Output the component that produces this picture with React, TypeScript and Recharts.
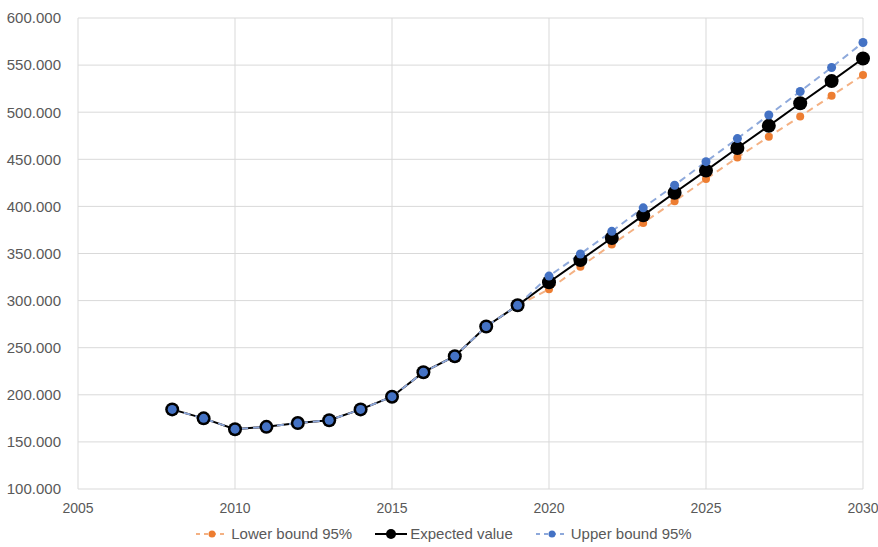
import { CartesianGrid, Legend, Line, LineChart, XAxis, YAxis } from 'recharts';

const years = [2008, 2009, 2010, 2011, 2012, 2013, 2014, 2015, 2016, 2017, 2018, 2019, 2020, 2021, 2022, 2023, 2024, 2025, 2026, 2027, 2028, 2029, 2030];

const expected = [184500, 175000, 163500, 166000, 170000, 173000, 184500, 198000, 224000, 241000, 272500, 295000, 319500, 343000, 366500, 390500, 414500, 438000, 462000, 485500, 509500, 533000, 557000];
const lower = [184500, 175000, 163500, 166000, 170000, 173000, 184500, 198000, 224000, 241000, 272500, 295000, 312000, 336000, 359500, 382500, 405500, 429000, 452000, 474000, 495500, 517500, 539500];
const upper = [184500, 175000, 163500, 166000, 170000, 173000, 184500, 198000, 224000, 241000, 272500, 295000, 326000, 349500, 373500, 398500, 422500, 447500, 472000, 497000, 522000, 547500, 574000];

const xTicks = [2005, 2010, 2015, 2020, 2025, 2030];
const yTicks = [100000, 150000, 200000, 250000, 300000, 350000, 400000, 450000, 500000, 550000, 600000];

const data = years.map((year, i) => ({ year, lower: lower[i], expected: expected[i], upper: upper[i] }));

const FONT = '"Liberation Sans", Arial, sans-serif';
const TEXT = '#595959';

// 600000 -> "600.000"
const fmtY = (v: number) => {
  const s = String(v);
  return s.slice(0, s.length - 3) + '.' + s.slice(-3);
};

const legendItems = [
  { name: 'Lower bound 95%', line: '#F4B183', dot: '#ED7D31', dash: '4 4', r: 3.5 },
  { name: 'Expected value', line: '#000000', dot: '#000000', dash: undefined, r: 5 },
  { name: 'Upper bound 95%', line: '#8EA9DB', dot: '#4472C4', dash: '4 4', r: 3.5 },
];

function LegendContent() {
  return (
    <div style={{ display: 'flex', justifyContent: 'center', paddingLeft: 24, fontFamily: FONT, fontSize: 15, color: TEXT, lineHeight: '17px' }}>
      {legendItems.map((it) => (
        <div key={it.name} style={{ display: 'flex', alignItems: 'center', margin: '0 11px' }}>
          <svg width={34} height={14}>
            <line x1={1} y1={7} x2={33} y2={7} stroke={it.line} strokeWidth={2} strokeDasharray={it.dash} />
            <circle cx={17} cy={7} r={it.r} fill={it.dot} />
          </svg>
          <span style={{ marginLeft: 2 }}>{it.name}</span>
        </div>
      ))}
    </div>
  );
}

export default function App() {
  return (
    <div style={{ position: 'absolute', left: 0, top: 0, background: '#fff' }}>
      <LineChart width={878} height={547} data={data} margin={{ top: 18, right: 15, bottom: 0, left: 0 }}>
        <CartesianGrid stroke="#D9D9D9" strokeWidth={1} />
        <XAxis
          dataKey="year"
          type="number"
          domain={[2005, 2030]}
          ticks={xTicks}
          axisLine={false}
          tickLine={false}
          tickSize={0}
          tickMargin={14}
          height={32}
          tick={{ fill: TEXT, fontSize: 14, fontFamily: FONT }}
        />
        <YAxis
          type="number"
          domain={[100000, 600000]}
          ticks={yTicks}
          tickFormatter={fmtY}
          axisLine={false}
          tickLine={false}
          tickSize={0}
          tickMargin={17}
          width={78}
          tick={{ fill: TEXT, fontSize: 15, fontFamily: FONT }}
        />
        <Legend verticalAlign="bottom" height={26} wrapperStyle={{ top: 525, bottom: 'auto' }} content={<LegendContent />} />
        <Line
          dataKey="lower"
          name="Lower bound 95%"
          stroke="#F4B183"
          strokeWidth={2}
          strokeDasharray="7 5"
          dot={{ r: 4, fill: '#ED7D31', stroke: 'none' }}
          isAnimationActive={false}
        />
        <Line
          dataKey="expected"
          name="Expected value"
          stroke="#000000"
          strokeWidth={2}
          dot={{ r: 7, fill: '#000000', stroke: 'none' }}
          isAnimationActive={false}
        />
        <Line
          dataKey="upper"
          name="Upper bound 95%"
          stroke="#8EA9DB"
          strokeWidth={2}
          strokeDasharray="7 5"
          dot={{ r: 4.5, fill: '#4472C4', stroke: 'none' }}
          isAnimationActive={false}
        />
      </LineChart>
    </div>
  );
}
